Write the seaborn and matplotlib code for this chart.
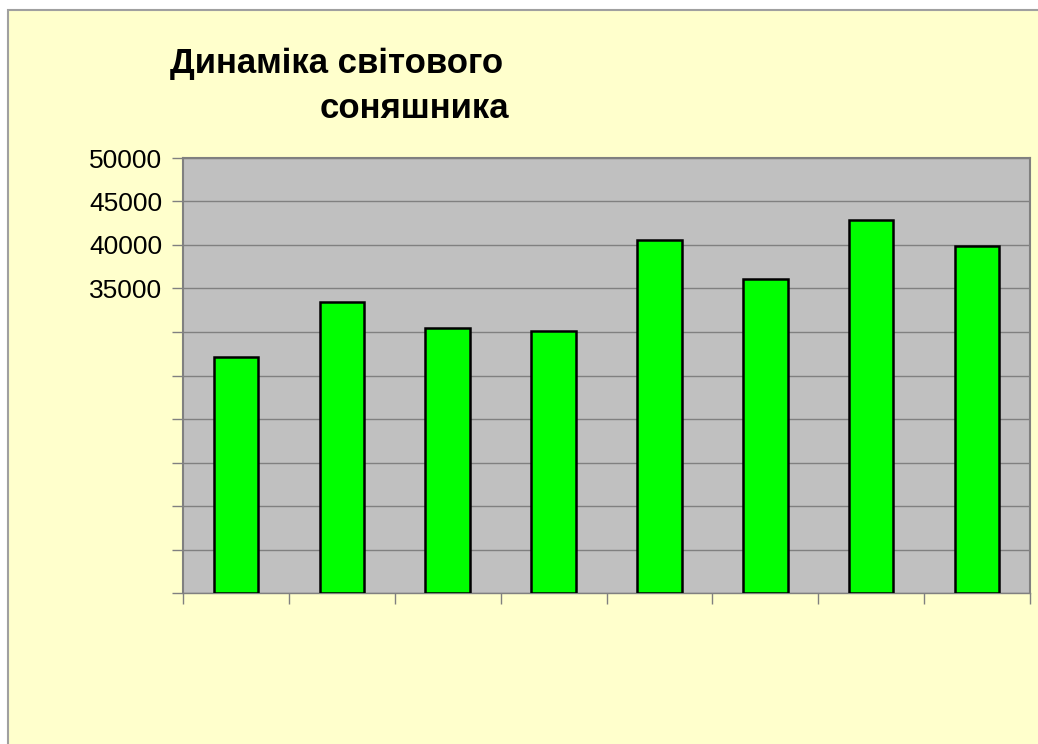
import matplotlib
matplotlib.use("Agg")
import matplotlib.pyplot as plt
import matplotlib.patches as mpatches
from matplotlib.ticker import FixedLocator, FixedFormatter, NullFormatter
import seaborn as sns
import pandas as pd

# Data
categories = ['1', '2', '3', '4', '5', '6', '7', '8']
values = [27100, 33450, 30450, 30100, 40550, 36100, 42850, 39850]
y_ticks = [0, 5000, 10000, 15000, 20000, 25000, 30000, 35000, 40000, 45000, 50000]
y_labels = ['', '', '', '', '', '', '', '35000', '40000', '45000', '50000']
title_line1 = "Динаміка світового"
title_line2 = "соняшника"

df = pd.DataFrame({'cat': categories, 'val': values})

sns.set_style("white")
plt.rcParams['font.family'] = ['Liberation Sans', 'DejaVu Sans']
plt.rcParams['text.color'] = 'black'
plt.rcParams['ytick.color'] = 'black'

fig = plt.figure(figsize=(10.38, 7.44), dpi=100)
fig.patch.set_facecolor('white')

# yellow panel behind the chart (runs off the right and bottom edges)
panel = mpatches.Rectangle((8 / 1038, -0.1), 1.2, (744 - 10) / 744 + 0.1,
                           transform=fig.transFigure, facecolor='#FFFFCC',
                           edgecolor='#A0A0A0', linewidth=1.5, zorder=-10)
fig.patches.append(panel)

ax = fig.add_axes([183 / 1038, 151 / 744, 847 / 1038, 435 / 744])
ax.set_facecolor('#C0C0C0')

sns.barplot(data=df, x='cat', y='val', color='#00FF00', width=0.42,
            edgecolor='black', linewidth=1.8, saturation=1, ax=ax, zorder=3)

ax.set_ylim(0, 50000)
ax.set_xlim(-0.5, len(categories) - 0.5)
ax.yaxis.set_major_locator(FixedLocator(y_ticks))
ax.yaxis.set_major_formatter(FixedFormatter(y_labels))
ax.grid(axis='y', color='#808080', linewidth=1, zorder=0)
ax.set_axisbelow(True)

ax.set_xticks([i - 0.5 for i in range(len(categories) + 1)])
ax.xaxis.set_major_formatter(NullFormatter())
ax.tick_params(axis='x', bottom=True, direction='out', length=8, width=1,
               color='#808080')
ax.tick_params(axis='y', left=True, direction='out', length=8, width=1,
               color='#808080', labelcolor='black', labelsize=19, pad=7)
ax.set_xlabel('')
ax.set_ylabel('')

for side in ['left', 'top', 'right']:
    ax.spines[side].set_color('#808080')
    ax.spines[side].set_linewidth(1.5)
ax.spines['bottom'].set_color('#808080')
ax.spines['bottom'].set_linewidth(1)

title_font = ['Liberation Sans Narrow', 'Liberation Sans', 'DejaVu Sans']
fig.text(170 / 1038, 1 - 63 / 744, title_line1, fontsize=25, fontweight='bold',
         family=title_font, color='black', ha='left', va='center')
fig.text(320 / 1038, 1 - 109 / 744, title_line2, fontsize=25, fontweight='bold',
         family=title_font, color='black', ha='left', va='center')

fig.savefig("out.png", dpi=100)
plt.close(fig)
